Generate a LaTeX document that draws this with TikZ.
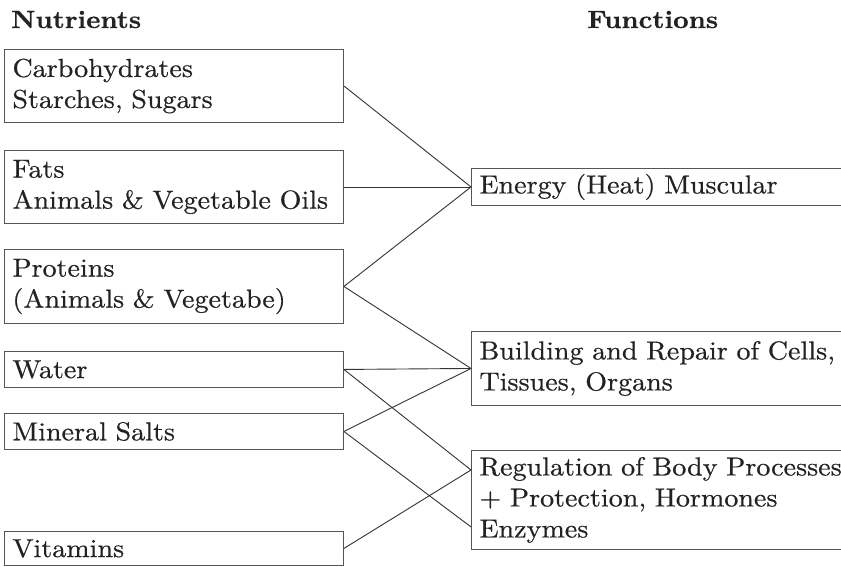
\documentclass[tikz,border=0pt]{standalone}
\usepackage{fontspec}
\setmainfont{lmroman10-regular.otf}[BoldFont=lmroman10-bold.otf, FakeStretch=1.08, FakeBold=0.5]
\usetikzlibrary{calc}
\definecolor{ink}{HTML}{222222}
\definecolor{edgec}{HTML}{555555}
\definecolor{wirec}{HTML}{333333}
\begin{document}
\begin{tikzpicture}[x=1pt,y=-1pt,
  box/.style={draw=edgec, line width=0.9pt, anchor=north west, align=left,
    inner xsep=8pt, inner ysep=0pt, text=ink, font=\fontsize{26}{31}\selectfont},
  lbox/.style={box, text width=323pt},
  rbox/.style={box, text width=384pt},
  wire/.style={draw=wirec, line width=0.9pt},
  head/.style={anchor=base west, text=ink, inner sep=0pt,
    font=\fontsize{25}{26}\selectfont\bfseries}]
\useasboundingbox (0,0) rectangle (841,566);
\clip (0,0) rectangle (841,566);
\fill[white] (0,0) rectangle (841,566);

\node[head] (hn) at (11,28) {Nutrients};
\node[head] (hf) at (587,28) {Functions};

\node[lbox, minimum height=73pt] (carb) at (4,49) {\mbox{Carbohydrates}\\\mbox{Starches, Sugars}};
\node[lbox, minimum height=73pt] (fats) at (4,150) {\mbox{Fats}\\\mbox{Animals \& Vegetable Oils}};
\node[lbox, minimum height=74pt] (prot) at (4,249) {\mbox{Proteins}\\\mbox{(Animals \& Vegetabe)}};
\node[lbox, minimum height=36pt] (water) at (4,351) {\mbox{Water}};
\node[lbox, minimum height=36pt] (mineral) at (4,413) {\mbox{Mineral Salts}};
\node[lbox, minimum height=34pt] (vit) at (4,531) {\mbox{Vitamins}};

\node[rbox, minimum height=37pt] (energy) at (471,168) {\mbox{Energy (Heat) Muscular}};
\node[rbox, minimum height=74pt] (build) at (471,331) {\mbox{Building and Repair of Cells,}\\\mbox{Tissues, Organs}};
\node[rbox, minimum height=99pt] (reg) at (471,450) {\mbox{Regulation of Body Processes}\\\mbox{+ Protection, Hormones}\\\mbox{Enzymes}};

\coordinate (regA) at ($(reg.north west)!0.2!(reg.south west)$);
\coordinate (regB) at ($(reg.north west)!0.77!(reg.south west)$);

\draw[wire] (carb.east) -- (energy.west);
\draw[wire] (fats.east) -- (energy.west);
\draw[wire] (prot.east) -- (energy.west);
\draw[wire] (prot.east) -- (build.west);
\draw[wire] (water.east) -- (build.west);
\draw[wire] (mineral.east) -- (build.west);
\draw[wire] (water.east) -- (regA);
\draw[wire] (vit.east) -- (regA);
\draw[wire] (mineral.east) -- (regB);
\end{tikzpicture}
\end{document}
